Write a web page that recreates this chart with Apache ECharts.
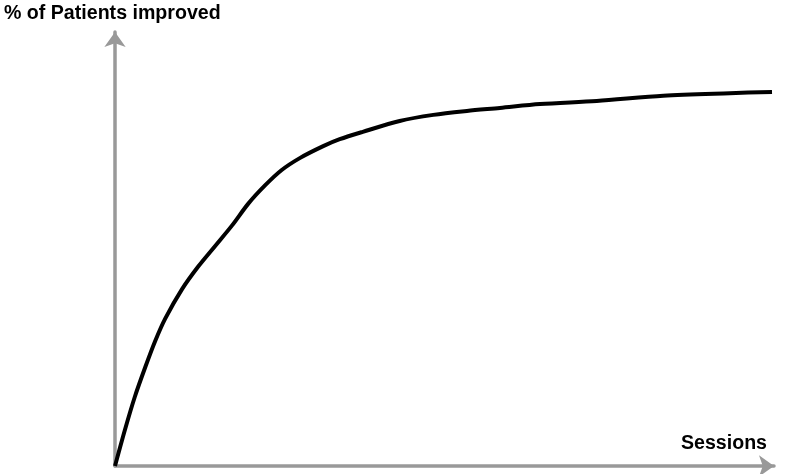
<!DOCTYPE html>
<html>
<head>
<meta charset="utf-8">
<script src="https://cdn.jsdelivr.net/npm/echarts@6/dist/echarts.min.js"></script>
<style>
  html, body { margin: 0; padding: 0; background: #fff; }
  #chart { width: 785px; height: 474px; }
</style>
</head>
<body>
<div id="chart"></div>
<script>
// sessions (0..100 scale) and % improved
const sessions = [0, 1.5, 3.0, 4.6, 6.1, 7.6, 10.2, 12.6, 15.2, 17.8, 20.2, 22.8, 25.3, 28.1, 31.6, 34.1, 37.6, 43.2, 48.3, 53.4, 58.4, 64.5, 73.1, 83.2, 93.3, 99.7];
const improved = [0, 8.3, 15.9, 22.8, 28.8, 33.9, 40.8, 45.9, 50.7, 55.5, 60.4, 64.7, 68.2, 71.0, 73.7, 75.3, 77.0, 79.5, 80.9, 81.8, 82.5, 83.4, 84.1, 85.3, 85.9, 86.2];
const yTitle = '% of Patients improved';
const xTitle = 'Sessions';

const chart = echarts.init(document.getElementById('chart'));
const axisGrey = '#999';
const font = 'Liberation Sans, Arial, sans-serif';

const axisLine = {
  show: true,
  symbol: ['none', 'arrow'],
  symbolSize: [16, 15],
  lineStyle: { color: axisGrey, width: 3.5 }
};

chart.setOption({
  animation: false,
  grid: { left: 115, right: 11, top: 32, bottom: 8 },
  xAxis: {
    type: 'value',
    min: 0,
    max: 100,
    axisLine: axisLine,
    axisTick: { show: false },
    axisLabel: { show: false },
    splitLine: { show: false }
  },
  yAxis: {
    type: 'value',
    min: 0,
    max: 100,
    axisLine: axisLine,
    axisTick: { show: false },
    axisLabel: { show: false },
    splitLine: { show: false }
  },
  graphic: [
    {
      type: 'text',
      left: 4,
      top: 4,
      style: { text: yTitle, fill: '#000', font: 'bold 19.6px ' + font }
    },
    {
      type: 'text',
      right: 18,
      top: 434,
      style: { text: xTitle, fill: '#000', font: 'bold 19.6px ' + font }
    }
  ],
  series: [
    {
      type: 'line',
      data: sessions.map((s, i) => [s, improved[i]]),
      smooth: 0.3,
      showSymbol: false,
      lineStyle: { color: '#000', width: 4 }
    }
  ]
});
</script>
</body>
</html>
